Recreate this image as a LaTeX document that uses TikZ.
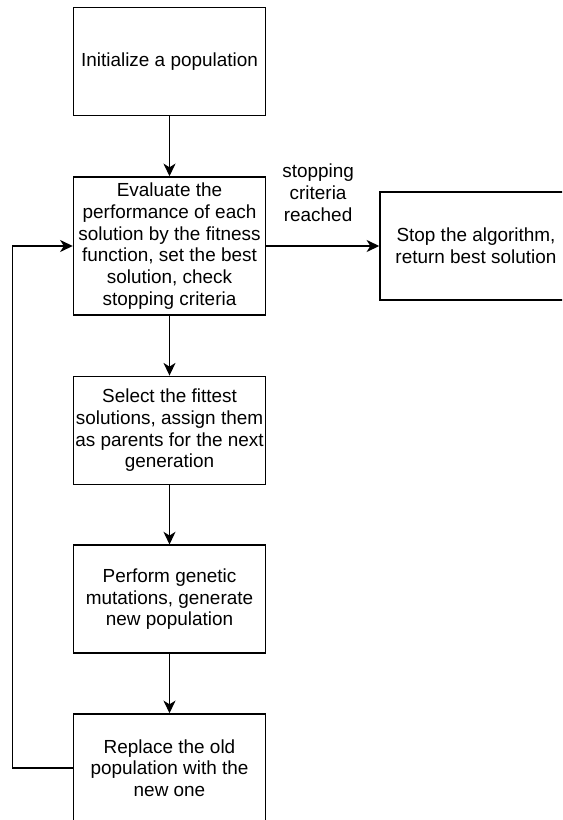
\documentclass[tikz,border=0pt]{standalone}
\usepackage{fontspec}
\setmainfont{Liberation Sans}
\usetikzlibrary{arrows.meta}
\begin{document}
\begin{tikzpicture}[x=0.75pt,y=-0.75pt,
  every node/.style={font=\fontsize{14.2pt}{16.3pt}\selectfont, align=center},
  stepbox/.style={draw, line width=1.1pt, minimum width=144pt, minimum height=81pt, inner sep=0pt},
  tallbox/.style={stepbox, minimum height=103.5pt},
  flow/.style={line width=1.1pt, -{Stealth[length=9.5pt,width=9pt,inset=2.8pt]}}]
  \clip (0,0) rectangle (562,820);
  \fill[white] (0,0) rectangle (562,820);

  \node[stepbox] (init) at (169.5,61.5) {Initialize a population};
  \node[tallbox] (eval) at (169.5,246) {Evaluate the\\performance of each\\solution by the fitness\\function, set the best\\solution, check\\stopping criteria};
  \node[stepbox] (select) at (169.5,430.3) {Select the fittest\\solutions, assign them\\as parents for the next\\generation};
  \node[stepbox] (mutate) at (169.5,599.2) {Perform genetic\\mutations, generate\\new population};
  \node[stepbox] (replace) at (169.5,768) {Replace the old\\population with the\\new one};
  \node[stepbox] (stop) at (476,246) {Stop the algorithm,\\return best solution};

  \coordinate (loopbottom) at (12.3,768);
  \coordinate (looptop) at (12.3,246);

  \draw[flow] (init) -- (eval);
  \draw[flow] (eval) -- (select);
  \draw[flow] (select) -- (mutate);
  \draw[flow] (mutate) -- (replace);
  \draw[flow] (eval) -- node[above=14.5pt, xshift=-3.5pt] (lbl) {stopping\\criteria\\reached} (stop);
  \draw[flow] (replace.west) -- (loopbottom) -- (looptop) -- (eval.west);
\end{tikzpicture}
\end{document}
